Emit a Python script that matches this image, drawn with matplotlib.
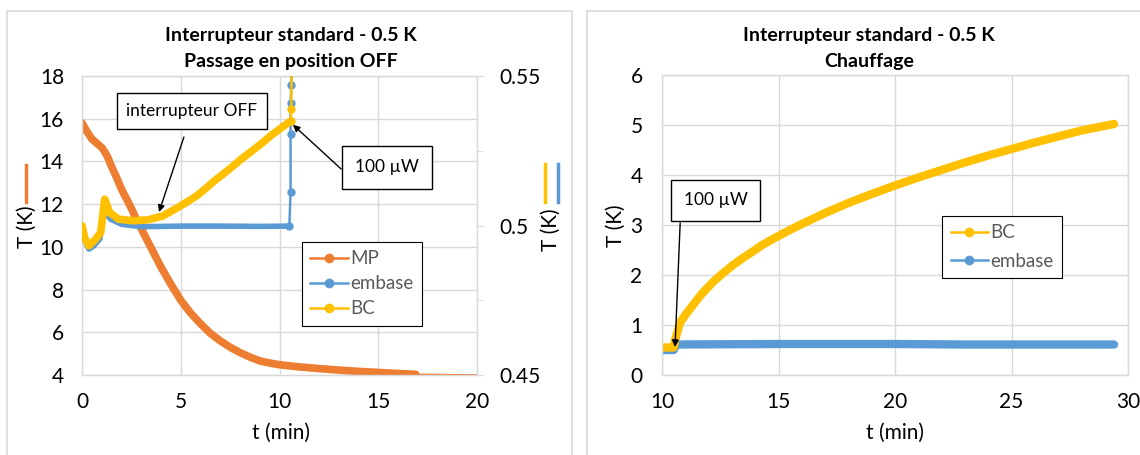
import numpy as np
import matplotlib
matplotlib.use('Agg')
import matplotlib.pyplot as plt
from matplotlib.lines import Line2D
from matplotlib.patches import Rectangle

plt.rcParams['font.family'] = ['Lato', 'DejaVu Sans']

# --- couleurs type Excel
ORANGE = '#ED7D31'
BLEU = '#5B9BD5'
JAUNE = '#FFC000'
GRIS = '#d9d9d9'

# --- graphe gauche : passage en position OFF
# MP (axe gauche, K)
t_mp = [0, 0.25, 0.5, 0.75, 1.0, 1.15, 1.3, 1.5, 1.75, 2.0, 2.25, 2.5, 2.75, 3.0,
        3.25, 3.5, 3.75, 4.0, 4.5, 5.0, 5.5, 6.0, 6.5, 7.0, 7.5, 8.0, 8.5, 9.0,
        9.5, 10.0, 11.0, 12.0, 13.0, 14.0, 15.0, 16.0, 16.9]
T_mp = [15.8, 15.4, 15.05, 14.85, 14.65, 14.45, 14.2, 13.75, 13.25, 12.7, 12.25,
        11.8, 11.3, 10.85, 10.4, 9.95, 9.5, 9.05, 8.25, 7.5, 6.9, 6.4, 5.95, 5.6,
        5.3, 5.05, 4.84, 4.66, 4.56, 4.48, 4.38, 4.30, 4.23, 4.17, 4.12, 4.07, 4.03]
t_mp_fin = [16.9, 20.0]
T_mp_fin = [4.02, 3.99]

# embase (axe droit, K)
t_emb = [0, 0.1, 0.35, 0.6, 0.9, 1.1, 1.18, 1.45, 2.0, 3.0, 5.0, 7.0, 9.0, 10.5]
T_emb = [0.4988, 0.4955, 0.4921, 0.4932, 0.4955, 0.5032, 0.5043, 0.5021,
         0.5004, 0.4996, 0.4998, 0.4998, 0.4997, 0.4998]
t_emb_saut = [10.5, 10.56, 10.56, 10.56, 10.6, 10.62]
T_emb_saut = [0.4998, 0.5113, 0.5305, 0.5409, 0.5470, 0.5600]

# BC (axe droit, K)
t_bc = [0, 0.15, 0.35, 0.7, 0.95, 1.15, 1.4, 1.85, 2.6, 3.35, 4.1, 4.85, 5.3,
        5.8, 6.25, 6.7, 7.2, 7.65, 8.1, 8.6, 9.1, 9.55, 10.1, 10.58]
T_bc = [0.4999, 0.4955, 0.4932, 0.4955, 0.4977, 0.5088, 0.5043, 0.5021, 0.5016,
        0.5019, 0.5032, 0.5060, 0.5078, 0.5099, 0.5123, 0.5149, 0.5175, 0.5199,
        0.5224, 0.5249, 0.5275, 0.5300, 0.5327, 0.5350]
t_bc_saut = [10.58, 10.6, 10.62]
T_bc_saut = [0.5350, 0.5389, 0.5600]

# --- graphe droit : chauffage
t_bc2 = [10.0, 10.5, 10.56, 10.77, 11.0, 11.33, 11.7, 12.19, 12.6, 13.05, 13.5,
         13.9, 14.3, 14.76, 15.4, 16.0, 17.0, 18.0, 19.0, 20.0, 21.0, 22.0, 23.0,
         24.0, 25.0, 26.0, 27.0, 28.0, 29.4]
T_bc2 = [0.55, 0.55, 0.70, 1.04, 1.20, 1.40, 1.62, 1.86, 2.03, 2.20, 2.35, 2.47,
         2.60, 2.72, 2.88, 3.02, 3.24, 3.44, 3.62, 3.79, 3.95, 4.10, 4.25, 4.39,
         4.52, 4.65, 4.77, 4.89, 5.02]
t_emb2 = [10.0, 10.5, 10.62, 15.0, 20.0, 23.0, 29.4]
T_emb2 = [0.50, 0.50, 0.61, 0.62, 0.62, 0.61, 0.61]

W, H = 1140, 455
fig = plt.figure(figsize=(W / 100, H / 100), dpi=100)


def px(x0, y0, x1, y1):
    # rectangle en pixels -> fraction de figure
    return [x0 / W, 1 - y1 / H, (x1 - x0) / W, (y1 - y0) / H]


def style_axes(ax):
    for s in ax.spines.values():
        s.set_color(GRIS)
        s.set_linewidth(1)
    ax.grid(True, color=GRIS, lw=1)
    ax.set_axisbelow(True)
    ax.tick_params(length=0, labelsize=15, colors='black')


# cadres des deux graphes
fig.patches.append(Rectangle((7 / W, -0.1), 565 / W, 1.1 - 11 / H,
                             transform=fig.transFigure, fill=False, ec=GRIS, lw=1.2))
fig.patches.append(Rectangle((587 / W, -0.1), 600 / W, 1.1 - 11 / H,
                             transform=fig.transFigure, fill=False, ec=GRIS, lw=1.2))

# ===== gauche
ax = fig.add_axes(px(82, 76, 477, 375))
style_axes(ax)
ax.plot(t_mp, T_mp, color=ORANGE, lw=5.5, solid_capstyle='round', solid_joinstyle='round')
ax.plot(t_mp_fin, T_mp_fin, color=ORANGE, lw=1.5)
ax.set_xlim(0, 20)
ax.set_ylim(4, 18)
ax.set_xticks([0, 5, 10, 15, 20])
ax.set_yticks(np.arange(4, 19, 2))
ax.tick_params(axis='y', pad=13)
ax.tick_params(axis='x', pad=12)

ax2 = ax.twinx()
ax2.set_ylim(0.45, 0.55)
ax2.set_yticks([0.45, 0.5, 0.55])
ax2.set_yticklabels(['0.45', '0.5', '0.55'])
ax2.set_yticks([0.475, 0.525], minor=True)
ax2.tick_params(axis='y', which='both', length=4, color=GRIS, labelsize=15, pad=12)
for s in ax2.spines.values():
    s.set_visible(False)
ax2.plot(t_emb, T_emb, color=BLEU, lw=4, solid_capstyle='round', solid_joinstyle='round')
ax2.plot(t_emb_saut, T_emb_saut, color=BLEU, lw=1.8, marker='o', ms=5)
ax2.plot(t_bc, T_bc, color=JAUNE, lw=5.5, solid_capstyle='round', solid_joinstyle='round')
ax2.plot(t_bc_saut, T_bc_saut, color=JAUNE, lw=1.8, marker='o', ms=5)

poignees = [Line2D([], [], color=c, lw=1.8, marker='o', ms=6) for c in (ORANGE, BLEU, JAUNE)]
leg = ax2.legend(poignees, ['MP', 'embase', 'BC'], loc='upper left',
                 bbox_to_anchor=(0.557, 0.445), borderaxespad=0, fontsize=13.5,
                 fancybox=False, edgecolor='black', framealpha=1, handlelength=2.0,
                 handletextpad=0.1, labelspacing=0.42, borderpad=0.45,
                 labelcolor='#595959')
leg.get_frame().set_linewidth(0.8)

ax.annotate('interrupteur OFF', xy=(0.278, 0.883), xycoords='axes fraction',
            ha='center', va='center', fontsize=12.5,
            bbox=dict(boxstyle='square,pad=0.55', fc='white', ec='black', lw=1))
ax.annotate('', xy=(3.9, 11.63), xycoords='data', xytext=(0.258, 0.796),
            textcoords='axes fraction',
            arrowprops=dict(arrowstyle='-|>', color='black', lw=1, mutation_scale=10,
                            shrinkA=0, shrinkB=0))
ax2.annotate('100 µW', xy=(0.773, 0.694), xycoords='axes fraction',
             ha='center', va='center', fontsize=12.5,
             bbox=dict(boxstyle='square,pad=0.75', fc='white', ec='black', lw=1))
ax2.annotate('', xy=(10.68, 0.5337), xycoords='data', xytext=(0.656, 0.689),
             textcoords='axes fraction',
             arrowprops=dict(arrowstyle='-|>', color='black', lw=1, mutation_scale=10,
                             shrinkA=0, shrinkB=0))

fig.text(291 / W, 1 - 36 / H, 'Interrupteur standard - 0.5 K', ha='center', va='center',
         fontsize=14, fontweight='bold')
fig.text(291 / W, 1 - 61 / H, 'Passage en position OFF', ha='center', va='center',
         fontsize=14, fontweight='bold')
fig.text(281 / W, 1 - 433 / H, 't (min)', ha='center', va='center', fontsize=15)

# titres des axes verticaux avec leurs traits de couleur
fig.text(27 / W, 1 - 227 / H, 'T (K)', rotation=90, ha='center', va='center', fontsize=15)
fig.add_artist(Line2D([26 / W, 26 / W], [1 - 165 / H, 1 - 202 / H], color=ORANGE, lw=2.5,
                      transform=fig.transFigure))
fig.text(551 / W, 1 - 230 / H, 'T (K)', rotation=90, ha='center', va='center', fontsize=15)
fig.add_artist(Line2D([545 / W, 545 / W], [1 - 164 / H, 1 - 202 / H], color=JAUNE, lw=2.5,
                      transform=fig.transFigure))
fig.add_artist(Line2D([558 / W, 558 / W], [1 - 164 / H, 1 - 202 / H], color=BLEU, lw=2.5,
                      transform=fig.transFigure))

# ===== droite
bx = fig.add_axes(px(662, 75, 1128, 375))
style_axes(bx)
bx.plot(t_emb2, T_emb2, color=BLEU, lw=6, solid_capstyle='round', solid_joinstyle='round')
bx.plot(t_bc2, T_bc2, color=JAUNE, lw=6, solid_capstyle='round', solid_joinstyle='round')
bx.set_xlim(10, 30)
bx.set_ylim(0, 6)
bx.set_xticks([10, 15, 20, 25, 30])
bx.set_yticks(range(0, 7))
bx.tick_params(axis='y', pad=14)
bx.tick_params(axis='x', pad=12)

poignees2 = [Line2D([], [], color=c, lw=1.8, marker='o', ms=6) for c in (JAUNE, BLEU)]
leg2 = bx.legend(poignees2, ['BC', 'embase'], loc='upper left',
                 bbox_to_anchor=(0.601, 0.53), borderaxespad=0, fontsize=13.5,
                 fancybox=False, edgecolor='black', framealpha=1, handlelength=2.0,
                 handletextpad=0.1, labelspacing=0.6, borderpad=0.45,
                 labelcolor='#595959')
leg2.get_frame().set_linewidth(0.8)

bx.annotate('100 µW', xy=(0.115, 0.582), xycoords='axes fraction',
            ha='center', va='center', fontsize=12.5,
            bbox=dict(boxstyle='square,pad=0.7', fc='white', ec='black', lw=1))
bx.annotate('', xy=(10.56, 0.56), xycoords='data', xytext=(0.039, 0.507),
            textcoords='axes fraction',
            arrowprops=dict(arrowstyle='-|>', color='black', lw=1, mutation_scale=10,
                            shrinkA=0, shrinkB=0))

fig.text(869 / W, 1 - 36 / H, 'Interrupteur standard - 0.5 K', ha='center', va='center',
         fontsize=14, fontweight='bold')
fig.text(869 / W, 1 - 61 / H, 'Chauffage', ha='center', va='center',
         fontsize=14, fontweight='bold')
fig.text(895 / W, 1 - 433 / H, 't (min)', ha='center', va='center', fontsize=15)
fig.text(616 / W, 1 - 226 / H, 'T (K)', rotation=90, ha='center', va='center', fontsize=15)

fig.savefig('out.png', dpi=100)
